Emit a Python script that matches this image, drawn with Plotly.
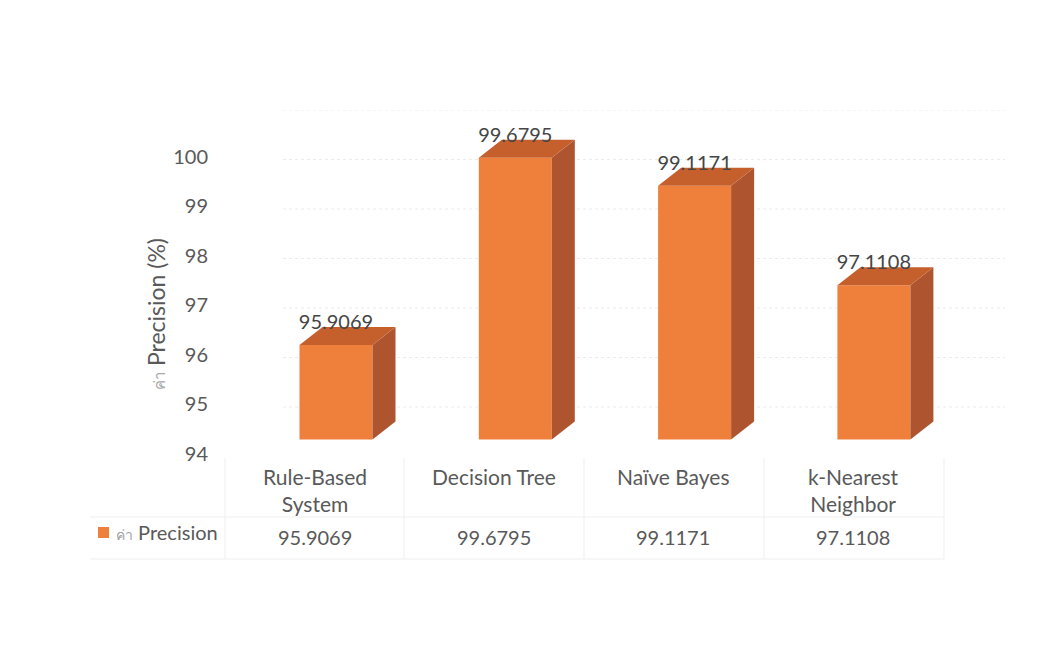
import plotly.graph_objects as go

# Chart data
categories = ["Rule-Based<br>System", "Decision Tree", "Naïve Bayes", "k-Nearest<br>Neighbor"]
precision = [95.9069, 99.6795, 99.1171, 97.1108]
tick_values = [94, 95, 96, 97, 98, 99, 100, 101]
tick_labels = ["94", "95", "96", "97", "98", "99", "100", ""]
series_prefix = "ค่า"
series_name = "Precision"

W, H = 1054, 651
FONT = "Lato"
TEXT = "#595959"
FRONT, TOP, SIDE = "#EF803C", "#C5602D", "#AE5530"
GRID = "#ebebeb"
WALL = "#f7f1f1"
TABLE = "#efefef"

px = lambda x: x / W
py = lambda y: 1 - y / H

# Pixel scale of the bar plane
UNIT_X, UNIT_Y = 179.3, 49.6
BAR_X0, BAR_FLOOR, BAR_CEIL = 336, 439.5, 60
BAR_W = 73 / UNIT_X
DEPTH_X, DEPTH_Y = 23 / UNIT_X, 18 / UNIT_Y
BASE = 94

fig = go.Figure()

# Back wall gridlines and their slanted continuation on the side wall
for v in tick_values[1:]:
    fig.add_trace(go.Scatter(x=[0, 1], y=[v, v], mode="lines", xaxis="x", yaxis="y", showlegend=False,
                             hoverinfo="skip", line=dict(color=GRID, width=1, dash="dot")))
    fig.add_trace(go.Scatter(x=[0, -0.08], y=[v, v - 0.83], mode="lines", xaxis="x", yaxis="y", showlegend=False,
                             hoverinfo="skip", cliponaxis=False, line=dict(color=WALL, width=1)))

xs = list(range(len(precision)))

# Side and top faces of every block, derived from its value
for i, v in zip(xs, precision):
    r = i + BAR_W / 2
    l = i - BAR_W / 2
    fig.add_trace(go.Scatter(x=[r, r + DEPTH_X, r + DEPTH_X, r, r], y=[BASE, BASE + DEPTH_Y, v + DEPTH_Y, v, BASE],
                             xaxis="x2", yaxis="y2", mode="lines", fill="toself", fillcolor=SIDE,
                             line=dict(width=0), showlegend=False, hoverinfo="skip"))
    fig.add_trace(go.Scatter(x=[l, r, r + DEPTH_X, l + DEPTH_X, l], y=[v, v, v + DEPTH_Y, v + DEPTH_Y, v],
                             xaxis="x2", yaxis="y2", mode="lines", fill="toself", fillcolor=TOP,
                             line=dict(width=0), showlegend=False, hoverinfo="skip"))

# Front faces
fig.add_trace(go.Bar(x=xs, y=precision, width=BAR_W, xaxis="x2", yaxis="y2", marker=dict(color=FRONT, line_width=0),
                     showlegend=False, hoverinfo="skip"))

# Data labels, overlapping the top faces
fig.add_trace(go.Scatter(x=xs, y=[v + 0.42 for v in precision], text=[f"{v:.4f}" for v in precision],
                         mode="text", textposition="middle center", xaxis="x2", yaxis="y2", cliponaxis=False,
                         textfont=dict(family=FONT, size=20, color="#454545"), showlegend=False, hoverinfo="skip"))

# Data table under the plot
shapes = []
for y in (517, 559):
    shapes.append(dict(type="line", xref="paper", yref="paper", x0=px(90), x1=px(944), y0=py(y), y1=py(y),
                       line=dict(color=TABLE, width=1), layer="below"))
for x in (225, 404, 584, 764, 944):
    shapes.append(dict(type="line", xref="paper", yref="paper", x0=px(x), x1=px(x), y0=py(458), y1=py(559),
                       line=dict(color=TABLE, width=1), layer="below"))

# Legend key of the table row
shapes.append(dict(type="rect", xref="paper", yref="paper", x0=px(98), x1=px(109), y0=py(538), y1=py(527),
                   fillcolor=FRONT, line_width=0))

annotations = []
COL_X = [315, 494, 673, 853]
for cx, name, v in zip(COL_X, categories, precision):
    annotations.append(dict(x=px(cx), y=py(462), xref="paper", yref="paper", text=name, showarrow=False,
                            xanchor="center", yanchor="top", font=dict(family=FONT, size=21, color=TEXT)))
    annotations.append(dict(x=px(cx), y=py(537), xref="paper", yref="paper", text=f"{v:.4f}", showarrow=False,
                            xanchor="center", yanchor="middle", font=dict(family=FONT, size=20, color=TEXT)))

annotations.append(dict(x=px(114), y=py(532), xref="paper", yref="paper", showarrow=False, xanchor="left",
                        yanchor="middle",
                        text=f'<span style="font-size:14px;color:#a0a0a0">{series_prefix}</span> {series_name}',
                        font=dict(family=FONT, size=20, color=TEXT)))

# Rotated value axis title
annotations.append(dict(x=px(156), y=py(314), xref="paper", yref="paper", textangle=-90, showarrow=False,
                        xanchor="center", yanchor="middle",
                        text=f'<span style="font-size:15px;color:#a8a8a8">{series_prefix}</span> {series_name} (%)',
                        font=dict(family=FONT, size=23, color=TEXT)))

fig.update_layout(
    width=W, height=H, autosize=False,
    margin=dict(l=0, r=0, t=0, b=0, autoexpand=False),
    paper_bgcolor="white", plot_bgcolor="rgba(0,0,0,0)",
    barmode="overlay",
    font=dict(family=FONT, color=TEXT),
    shapes=shapes, annotations=annotations,
    showlegend=False,
    # Wall plane with the printed value axis
    xaxis=dict(domain=[px(283), px(1005)], range=[0, 1], visible=False, fixedrange=True),
    yaxis=dict(domain=[py(456.5), py(110)], range=[94, 101], anchor="free", position=px(208),
               tickmode="array", tickvals=tick_values, ticktext=tick_labels, showgrid=False, zeroline=False,
               showline=False, ticks="", ticklabelshift=-3,
               tickfont=dict(family=FONT, size=20, color=TEXT)),
    # Front plane carrying the blocks
    xaxis2=dict(domain=[0, 1], range=[-BAR_X0 / UNIT_X, (W - BAR_X0) / UNIT_X], visible=False, anchor="y2"),
    yaxis2=dict(domain=[py(BAR_FLOOR), py(BAR_CEIL)], range=[BASE, BASE + (BAR_FLOOR - BAR_CEIL) / UNIT_Y],
                visible=False, anchor="x2"),
)

fig.write_html("out.html", config=dict(displayModeBar=False))
